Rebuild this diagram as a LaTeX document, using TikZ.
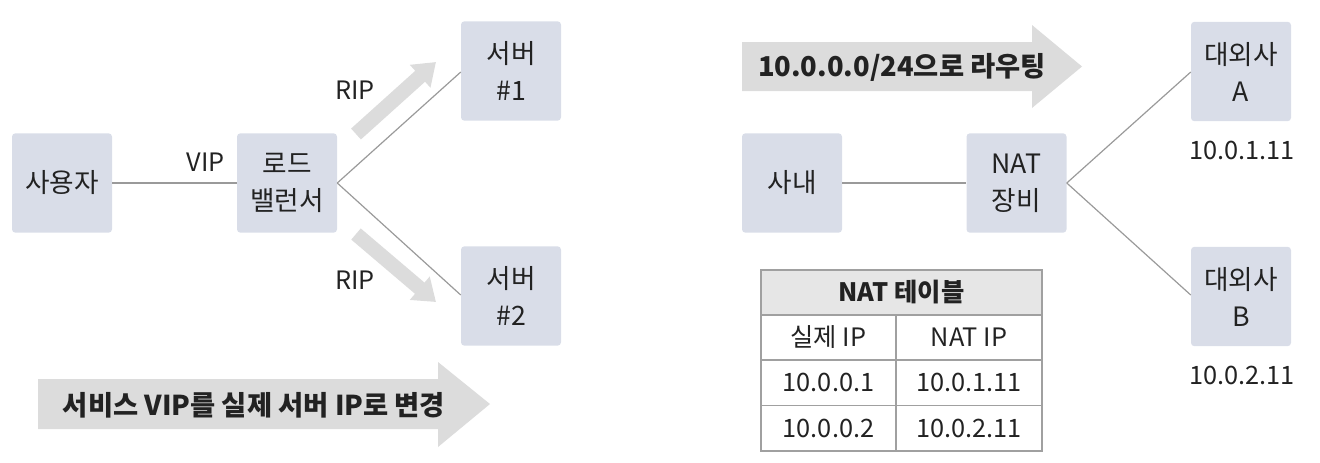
\documentclass[tikz,border=0pt]{standalone}
\usepackage{fontspec}
\setmainfont{Noto Sans CJK KR}
\usetikzlibrary{arrows.meta}
\definecolor{boxfill}{HTML}{D9DDE8}
\definecolor{arrowgray}{HTML}{DCDCDC}
\definecolor{linegray}{HTML}{9A9A9A}
\definecolor{txt}{HTML}{222222}
\definecolor{tablehead}{HTML}{E6E6E6}
\definecolor{tableline}{HTML}{A0A0A0}
\begin{document}
\begin{tikzpicture}[x=0.75pt,y=-0.75pt,
  box/.style={fill=boxfill, rounded corners=2.5pt, minimum width=75pt, minimum height=74.5pt, inner sep=0pt, align=center, font=\fontsize{20}{27.75}\selectfont, text=txt},
  lbl/.style={font=\fontsize{19}{24}\selectfont, text=txt, inner sep=0pt},
  conn/.style={draw=linegray, line width=0.9pt},
  fat/.style={draw=arrowgray, line width=11pt, -{Triangle[width=22pt,length=16pt]}},
  bigarrow/.style={fill=arrowgray, draw=none},
  bigtext/.style={font=\fontsize{20.5}{24}\selectfont\bfseries, text=txt, inner sep=0pt},
  cell/.style={draw=tableline, line width=1.1pt, minimum height=34pt, inner sep=0pt, font=\fontsize{19}{24}\selectfont, text=txt},
  lcell/.style={cell, minimum width=101.25pt},
  rcell/.style={cell, minimum width=109.5pt}
]
\useasboundingbox (0,0) rectangle (1320,462);

% ---------- left diagram ----------
\node[box] (user) at (62,183) {사용자};
\node[box] (lb) at (287,183) {로드\\밸런서};
\node[box] (s1) at (511,71) {서버\\\#1};
\node[box] (s2) at (511,296) {서버\\\#2};

\draw[conn] (user.east) -- (lb.west);
\draw[conn] (lb.east) -- (s1.west |- 462,72);
\draw[conn] (lb.east) -- (s2.west |- 462,295);

\node[lbl] (vip) at (206,162) {VIP};
\node[lbl] (rip1) at (355,90) {RIP};
\node[lbl] (rip2) at (355,280) {RIP};

\coordinate (f1a) at (356,134);
\coordinate (f1b) at (436,62);
\coordinate (f2a) at (356,234);
\coordinate (f2b) at (436,302);
\draw[fat] (f1a) -- (f1b);
\draw[fat] (f2a) -- (f2b);

\fill[bigarrow] (38,379) -- (438,379) -- (438,362) -- (490,404) -- (438,447) -- (438,429) -- (38,429) -- cycle;
\node[bigtext] (leftcap) at (254,405) {서비스 VIP를 실제 서버 IP로 변경};

% ---------- right diagram ----------
\fill[bigarrow] (742,42) -- (1032,42) -- (1032,25) -- (1082,66.5) -- (1032,108) -- (1032,91) -- (742,91) -- cycle;
\node[bigtext] (rightcap) at (902,67) {10.0.0.0/24으로 라우팅};

\node[box] (in) at (792,183) {사내};
\node[box] (nat) at (1016.5,183) {NAT\\장비};
\node[box] (ca) at (1241,71.5) {대외사\\A};
\node[box] (cb) at (1241,296.5) {대외사\\B};

\draw[conn] (in.east) -- (nat.west);
\draw[conn] (nat.east) -- (ca.west |- 1191,72);
\draw[conn] (nat.east) -- (cb.west |- 1191,295);

\node[lbl] (ipa) at (1242,150) {10.0.1.11};
\node[lbl] (ipb) at (1242,375) {10.0.2.11};

% ---------- NAT table ----------
\node[cell, fill=tablehead, minimum width=210.75pt, font=\fontsize{19}{24}\selectfont\bfseries] (th) at (901.5,292.5) {NAT 테이블};
\node[lcell] (c11) at (828.5,337.5) {실제 IP};
\node[rcell] (c12) at (969,337.5) {NAT IP};
\node[lcell] (c21) at (828.5,382.8) {10.0.0.1};
\node[rcell] (c22) at (969,382.8) {10.0.1.11};
\node[lcell] (c31) at (828.5,428.1) {10.0.0.2};
\node[rcell] (c32) at (969,428.1) {10.0.2.11};
\end{tikzpicture}
\end{document}
